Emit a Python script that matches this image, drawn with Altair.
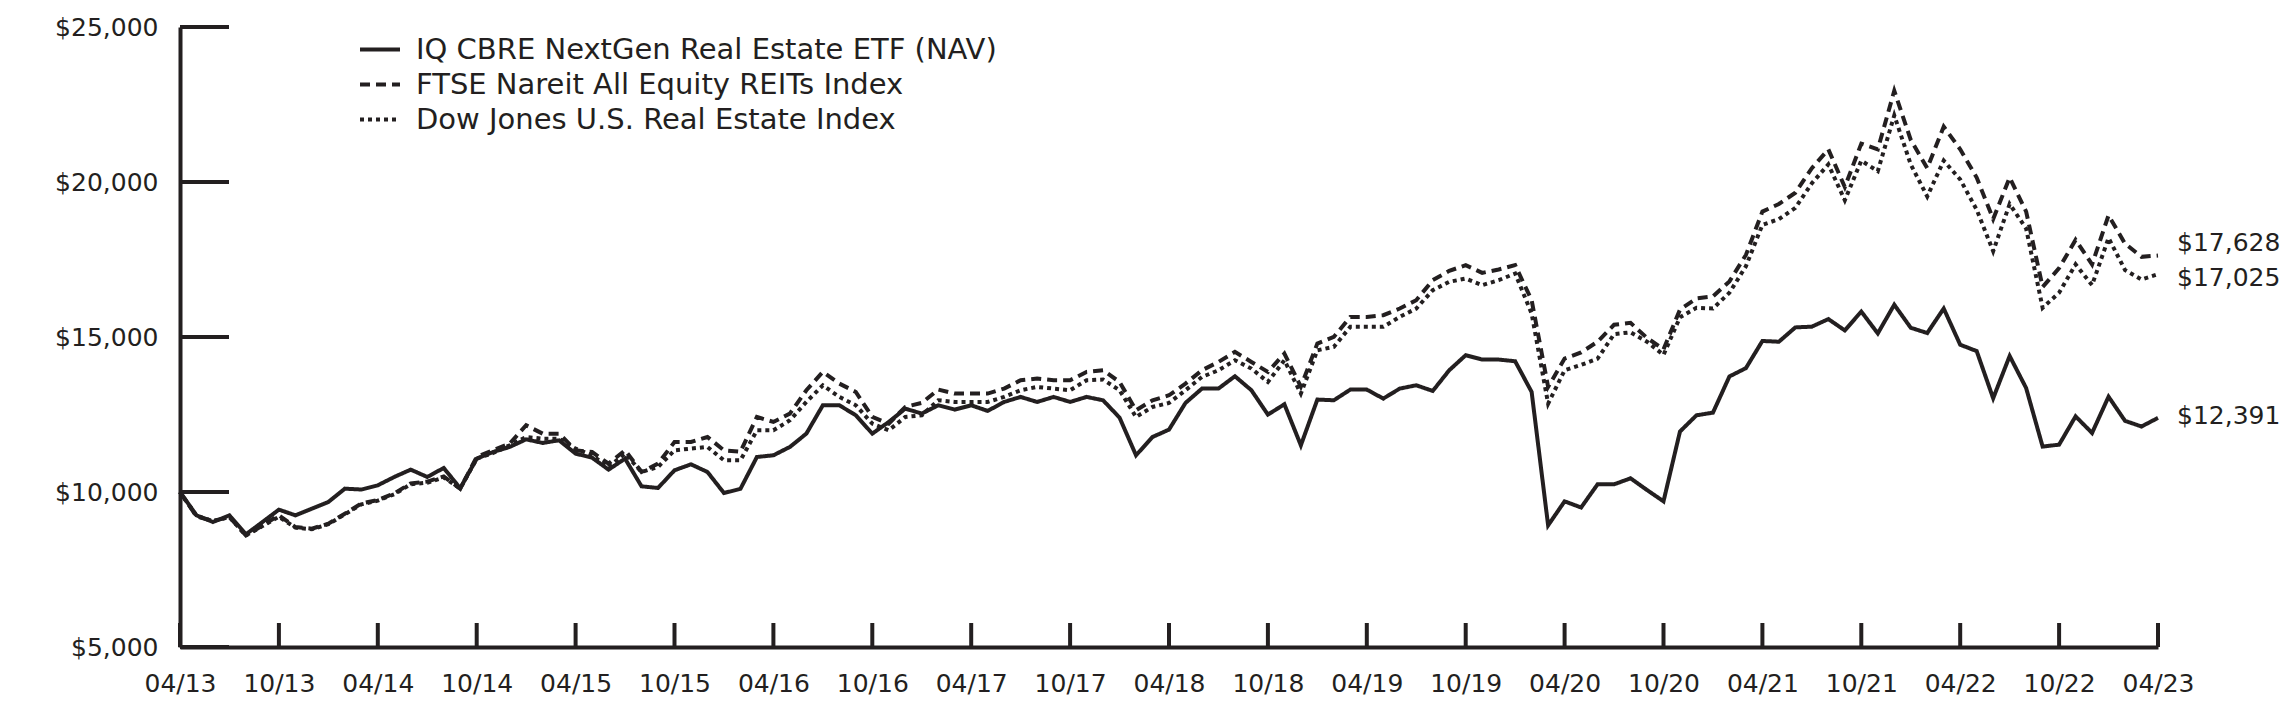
import altair as alt
import pandas as pd

# ---------------- data ----------------
series_names = [
    "IQ CBRE NextGen Real Estate ETF (NAV)",
    "FTSE Nareit All Equity REITs Index",
    "Dow Jones U.S. Real Estate Index",
]
tick_labels = ["04/13", "10/13", "04/14", "10/14", "04/15", "10/15", "04/16",
               "10/16", "04/17", "10/17", "04/18", "10/18", "04/19", "10/19",
               "04/20", "10/20", "04/21", "10/21", "04/22", "10/22", "04/23"]
y_ticks = [5000, 10000, 15000, 20000, 25000]

etf = [10000, 9248, 9032, 9248, 8635, 9030, 9431, 9248, 9463, 9677,
       10108, 10080, 10216, 10485, 10722, 10485, 10775, 10120, 11076, 11291,
       11453, 11700, 11582, 11668, 11237, 11108, 10721, 11076, 10183, 10130,
       10700, 10893, 10645, 9968, 10100, 11130, 11184, 11453, 11883, 12798,
       12798, 12475, 11883, 12260, 12690, 12529, 12798, 12658, 12798, 12615,
       12905, 13067, 12905, 13067, 12905, 13067, 12959, 12400, 11184, 11775,
       12012, 12873, 13336, 13336, 13734, 13282, 12496, 12830, 11506, 12981,
       12959, 13303, 13303, 13013, 13336, 13443, 13260, 13927, 14412, 14272,
       14272, 14218, 13228, 8924, 9699, 9500, 10247, 10247, 10442, 10064,
       9699, 11951, 12474, 12560, 13728, 13996, 14872, 14848, 15310, 15334,
       15578, 15213, 15821, 15116, 16041, 15298, 15128, 15919, 14751, 14545,
       13023, 14387, 13353, 11466, 11527, 12440, 11905, 13074, 12295, 12113,
       12391]

ftse = [10000, 9215, 9064, 9190, 8600, 8920, 9248, 8870, 8817, 8978,
        9300, 9630, 9740, 9955, 10280, 10335, 10500, 10108, 11130, 11345,
        11560, 12152, 11883, 11883, 11345, 11290, 10915, 11345, 10645, 10915,
        11614, 11614, 11775, 11345, 11300, 12421, 12260, 12529, 13282, 13874,
        13497, 13228, 12421, 12206, 12744, 12873, 13303, 13174, 13174, 13174,
        13336, 13605, 13659, 13605, 13605, 13874, 13927, 13550, 12636, 12959,
        13120, 13497, 13927, 14196, 14519, 14196, 13874, 14465, 13400, 14788,
        15003, 15649, 15649, 15703, 15918, 16187, 16833, 17134, 17317, 17069,
        17177, 17317, 16187, 13389, 14304, 14500, 14848, 15395, 15456, 14970,
        14605, 15882, 16247, 16308, 16795, 17646, 19046, 19290, 19655, 20446,
        21054, 19838, 21237, 21054, 22940, 21359, 20446, 21785, 21054, 20142,
        18803, 20142, 19046, 16612, 17220, 18133, 17342, 18925, 18012, 17586,
        17628]

dj = [10000, 9230, 9064, 9190, 8600, 8900, 9200, 8850, 8800, 8960,
      9280, 9600, 9720, 9930, 10250, 10300, 10470, 10108, 11076, 11260,
      11506, 11775, 11720, 11720, 11400, 11184, 10807, 11237, 10645, 10807,
      11345, 11400, 11453, 11022, 11022, 11991, 11991, 12313, 12905, 13443,
      13067, 12798, 12206, 11991, 12421, 12475, 12959, 12905, 12905, 12905,
      13067, 13282, 13389, 13336, 13282, 13605, 13626, 13282, 12421, 12744,
      12873, 13282, 13712, 13927, 14250, 13981, 13550, 14250, 13174, 14573,
      14681, 15327, 15327, 15327, 15649, 15918, 16510, 16779, 16886, 16672,
      16833, 17048, 15757, 12851, 13927, 14100, 14300, 15091, 15152, 14848,
      14421, 15638, 15943, 15918, 16429, 17281, 18619, 18801, 19167, 19958,
      20567, 19411, 20689, 20348, 22149, 20567, 19533, 20689, 20081, 19107,
      17768, 19289, 18498, 15942, 16429, 17342, 16673, 18194, 17160, 16856,
      17025]

# ---------------- styling ----------------
INK = "#231f20"
FONT = "DejaVu Sans"
W, H = 1978, 620
n_months = len(etf) - 1
tick_months = list(range(0, n_months + 1, 6))

rows = []
for name, vals in zip(series_names, [etf, ftse, dj]):
    for m, v in enumerate(vals):
        rows.append({"month": m, "value": v, "series": name})
df = pd.DataFrame(rows)

end_df = pd.DataFrame({
    "series": series_names,
    "month": [n_months] * 3,
    "value": [etf[-1], ftse[-1], dj[-1]],
})

label_expr = "[" + ",".join(f"'{t}'" for t in tick_labels) + "][round(datum.value/6)]"

x_scale = alt.Scale(domain=[0, n_months], nice=False, zero=False)
y_scale = alt.Scale(domain=[y_ticks[0], y_ticks[-1]], nice=False, zero=False)

lines = alt.Chart(df).mark_line(strokeWidth=4, color=INK, strokeJoin="miter").encode(
    x=alt.X("month:Q", scale=x_scale, title=None,
            axis=alt.Axis(values=tick_months, labelExpr=label_expr, ticks=False,
                          grid=False, domainColor=INK, domainWidth=4,
                          labelFont=FONT, labelFontSize=25, labelColor=INK,
                          labelPadding=24, labelFlush=False, title=None)),
    y=alt.Y("value:Q", scale=y_scale, title=None,
            axis=alt.Axis(values=y_ticks, format="$,.0f", ticks=False, grid=False,
                          domainColor=INK, domainWidth=4,
                          labelFont=FONT, labelFontSize=25, labelColor=INK,
                          labelPadding=22, title=None)),
    strokeDash=alt.StrokeDash(
        "series:N",
        scale=alt.Scale(domain=series_names, range=[[1, 0], [10, 6], [4, 4]]),
        legend=alt.Legend(orient="none", legendX=178, legendY=8, title=None,
                          symbolType="stroke", symbolSize=1600,
                          symbolStrokeWidth=4, symbolStrokeColor=INK,
                          labelFont=FONT, labelFontSize=29, labelColor=INK,
                          labelOffset=14, rowPadding=5, clipHeight=29,
                          labelLimit=900),
    ),
    order=alt.Order("month:Q"),
)

ytick_df = pd.DataFrame({"v": y_ticks})
yticks = alt.Chart(ytick_df).mark_rule(strokeWidth=4, color=INK).encode(
    y=alt.Y("v:Q", scale=y_scale, title=None),
    x=alt.value(0), x2=alt.value(49),
)

xtick_df = pd.DataFrame({"m": tick_months})
xticks = alt.Chart(xtick_df).mark_rule(strokeWidth=4, color=INK).encode(
    x=alt.X("m:Q", scale=x_scale, title=None),
    y=alt.value(H - 24), y2=alt.value(H),
)

label_dy = {series_names[0]: -2, series_names[1]: -13, series_names[2]: 4}
end_layers = []
for name in series_names:
    end_layers.append(
        alt.Chart(end_df[end_df["series"] == name]).mark_text(
            align="left", baseline="middle", dx=19, dy=label_dy[name],
            font=FONT, fontSize=25, color=INK,
        ).encode(
            x=alt.X("month:Q", scale=x_scale, title=None),
            y=alt.Y("value:Q", scale=y_scale, title=None),
            text=alt.Text("value:Q", format="$,.0f"),
        )
    )

chart = alt.layer(lines, yticks, xticks, *end_layers).properties(
    width=W, height=H,
    autosize=alt.AutoSizeParams(type="none"),
    padding={"left": 172, "top": 19, "right": 125, "bottom": 53},
    background="white",
).configure_view(stroke=None)

chart.save("out.html", embed_options={"renderer": "svg", "actions": False})
